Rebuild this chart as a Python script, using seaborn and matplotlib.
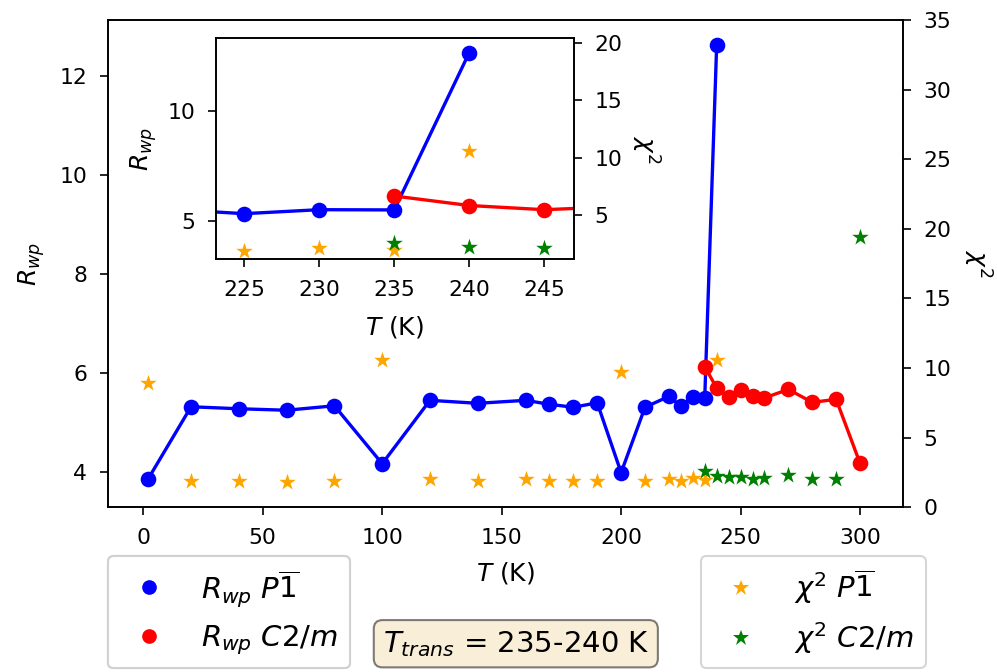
import matplotlib
matplotlib.use("Agg")
import matplotlib.pyplot as plt
from matplotlib.lines import Line2D
import numpy as np
import pandas as pd
import seaborn as sns

# Refinement quality vs temperature
t_p1 = [2, 20, 40, 60, 80, 100, 120, 140, 160, 170, 180, 190, 200, 210,
        220, 225, 230, 235, 240]
rwp_p1 = [3.86, 5.32, 5.28, 5.25, 5.34, 4.17, 5.45, 5.39, 5.45, 5.37, 5.31,
          5.40, 3.99, 5.31, 5.53, 5.33, 5.51, 5.50, 12.63]
chi2_p1 = [8.9, 1.9, 1.9, 1.8, 1.9, 10.6, 2.0, 1.9, 2.0, 1.9, 1.9, 1.9, 9.7,
           1.9, 2.0, 1.9, 2.1, 1.95, 10.55]

t_c2m = [235, 240, 245, 250, 255, 260, 270, 280, 290, 300]
rwp_c2m = [6.13, 5.70, 5.51, 5.65, 5.53, 5.50, 5.67, 5.41, 5.47, 4.18]
chi2_c2m = [2.58, 2.22, 2.15, 2.2, 2.05, 2.1, 2.3, 2.05, 2.05, 19.4]

label_rwp_p1 = r"$R_{wp}$ $P\overline{1}$"
label_rwp_c2m = r"$R_{wp}$ $C2/m$"
label_chi_p1 = r"$\chi^2$ $P\overline{1}$"
label_chi_c2m = r"$\chi^2$ $C2/m$"
trans_text = r"$T_{trans}$ = 235-240 K"

df_p1 = pd.DataFrame({"T": t_p1, "rwp": rwp_p1, "chi2": chi2_p1})
df_c2m = pd.DataFrame({"T": t_c2m, "rwp": rwp_c2m, "chi2": chi2_c2m})

LINE_KW = dict(marker="o", markersize=7.5, linewidth=1.6, markeredgewidth=0)
STAR_KW = dict(marker="*", s=70, linewidth=0)
TICK_KW = dict(labelsize=10.5, length=4, pad=5.8)


def draw_panel(ax, axr):
    sns.lineplot(data=df_p1, x="T", y="rwp", color="blue", ax=ax,
                 legend=False, **LINE_KW)
    sns.lineplot(data=df_c2m, x="T", y="rwp", color="red", ax=ax,
                 legend=False, **LINE_KW)
    sns.scatterplot(data=df_p1, x="T", y="chi2", color="orange", ax=axr,
                    legend=False, **STAR_KW)
    sns.scatterplot(data=df_c2m, x="T", y="chi2", color="green", ax=axr,
                    legend=False, **STAR_KW)


fig = plt.figure(figsize=(997 / 150, 672 / 150), dpi=150)

ax = fig.add_axes([0.1080, 0.2451, 0.7980, 0.7251])
axr = ax.twinx()
draw_panel(ax, axr)
ax.set_xlim(-14.9, 318.1)
ax.set_ylim(3.29, 13.13)
axr.set_ylim(0, 35)
ax.set_xticks([0, 50, 100, 150, 200, 250, 300])
ax.set_yticks([4, 6, 8, 10, 12])
axr.set_yticks([0, 5, 10, 15, 20, 25, 30, 35])
ax.set_xlabel(r"$T$ (K)", fontsize=12, labelpad=6)
ax.set_ylabel(r"$R_{wp}$", fontsize=12, labelpad=6)
axr.set_ylabel(r"$\chi^2$", fontsize=12, rotation=270, labelpad=20)
for a in (ax, axr):
    a.tick_params(**TICK_KW)

# Zoomed view around the phase transition
axi = fig.add_axes([0.2163, 0.6141, 0.3597, 0.3289])
axir = axi.twinx()
draw_panel(axi, axir)
axi.set_xlim(223.1, 247.0)
axi.set_ylim(3.26, 13.28)
axir.set_ylim(1.14, 20.38)
axi.set_xticks([225, 230, 235, 240, 245])
axi.set_yticks([5, 10])
axir.set_yticks([5, 10, 15, 20])
axi.set_xlabel(r"$T$ (K)", fontsize=12, labelpad=7)
axi.set_ylabel(r"$R_{wp}$", fontsize=12, labelpad=4)
axir.set_ylabel(r"$\chi^2$", fontsize=12, rotation=270, labelpad=18.5)
for a in (axi, axir):
    a.tick_params(**TICK_KW)

# Legends below the main axes
h_rwp = [Line2D([], [], linestyle="none", marker="o", markersize=7,
                markeredgewidth=0, color=c) for c in ("blue", "red")]
h_chi = [Line2D([], [], linestyle="none", marker="*", markersize=8,
                markeredgewidth=0, color=c) for c in ("orange", "green")]
leg_kw = dict(fontsize=14, borderaxespad=0)
leg1 = ax.legend(h_rwp, [label_rwp_p1, label_rwp_c2m], loc="upper left",
                 bbox_to_anchor=(0.0, -0.1), **leg_kw)
ax.add_artist(leg1)
axr.legend(h_chi, [label_chi_p1, label_chi_c2m], loc="upper right",
           bbox_to_anchor=(1.028, -0.1), **leg_kw)

ax.text(0.513, -0.28, trans_text, transform=ax.transAxes, fontsize=14,
        ha="center", va="center",
        bbox=dict(boxstyle="round", facecolor="wheat", alpha=0.5))

fig.savefig("out.png", dpi=150)
